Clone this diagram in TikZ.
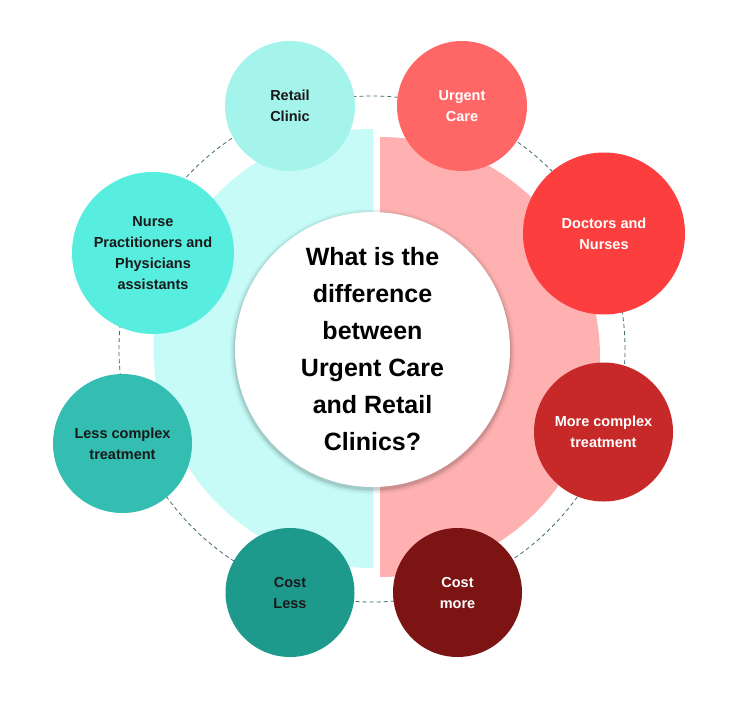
\documentclass[tikz,border=0pt]{standalone}
\usepackage{fontspec}
\setmainfont{Liberation Sans}

\definecolor{cyanbg}{HTML}{C6FBF8}
\definecolor{pinkbg}{HTML}{FFB1B1}
\definecolor{retailc}{HTML}{A4F4EC}
\definecolor{nursec}{HTML}{58EEDF}
\definecolor{lessc}{HTML}{33BEB1}
\definecolor{costlessc}{HTML}{1E9A8C}
\definecolor{urgentc}{HTML}{FF6666}
\definecolor{doctorsc}{HTML}{FC3E3E}
\definecolor{morec}{HTML}{C72929}
\definecolor{costmorec}{HTML}{7D1414}
\definecolor{ringc}{HTML}{3F6E70}

\begin{document}
\begin{tikzpicture}[x=1pt, y=1pt,
  bubble/.style={circle, inner sep=0pt, align=center,
    font=\bfseries\fontsize{14.5}{21}\selectfont},
  dark/.style={bubble, text=black!90},
  light/.style={bubble, text=white}]

  % Fix the page size
  \useasboundingbox[fill=white] (0,0) rectangle (736,-715);

  % Draw the dashed ring
  \coordinate (hub) at (372,-349);
  \draw[ringc, line width=0.8pt, dash pattern=on 4pt off 3pt] (hub) circle[radius=253pt];

  % Draw the two half discs
  \fill[cyanbg] (373,-129) arc[start angle=90, end angle=270, radius=219.5pt] -- cycle;
  \fill[pinkbg] (380,-137) arc[start angle=90, end angle=-90, radius=220pt] -- cycle;

  % Draw the retail clinic side
  \node[dark, fill=retailc, minimum size=130pt] (retail) at (290,-106) {Retail\\Clinic};
  \node[dark, fill=nursec, minimum size=162pt] (nurse) at (153,-253) {Nurse\\Practitioners and\\Physicians\\assistants};
  \node[dark, fill=lessc, minimum size=139pt] (less) at (122.5,-443.5) {Less complex\\treatment};
  \node[dark, fill=costlessc, minimum size=129pt] (cheap) at (290,-592.5) {Cost\\Less};

  % Draw the urgent care side
  \node[light, fill=urgentc, minimum size=130pt] (urgent) at (462,-106) {Urgent\\Care};
  \node[light, fill=doctorsc, minimum size=162pt] (doctors) at (604,-233.5) {Doctors and\\Nurses};
  \node[light, fill=morec, minimum size=139pt] (more) at (603.5,-432) {More complex\\treatment};
  \node[light, fill=costmorec, minimum size=129pt] (dear) at (457.5,-592.5) {Cost\\more};

  % Draw the shadow of the question
  \foreach \r/\o in {143/0.025, 141.5/0.04, 140/0.06, 138.8/0.08}
    \fill[black, opacity=\o] (372.5,-351.5) circle[radius=\r pt];

  % Draw the question
  \node[circle, fill=white, inner sep=0pt, minimum size=275pt, align=center,
    font=\bfseries\fontsize{25}{37}\selectfont] (question) at (372.5,-349.5)
    {What is the\\difference\\between\\Urgent Care\\and Retail\\Clinics?};
\end{tikzpicture}
\end{document}
